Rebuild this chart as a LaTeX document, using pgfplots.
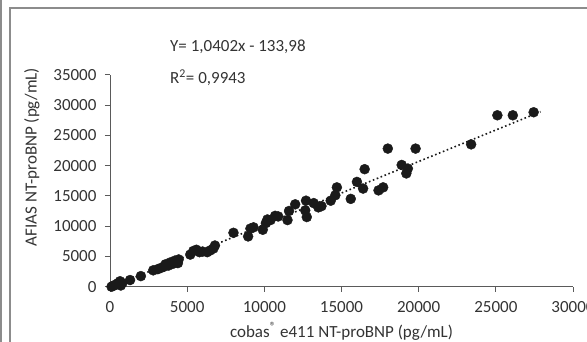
\documentclass[border=0pt]{standalone}
\usepackage{pgfplots}
\pgfplotsset{compat=1.18}
\usepackage{fontspec}
\setmainfont{Carlito}
\definecolor{txt}{HTML}{333333}
\definecolor{axc}{HTML}{5A5A5A}
\definecolor{frm}{HTML}{8C8C8C}
\definecolor{dot}{HTML}{1A1A1A}
\begin{document}
\begin{tikzpicture}[x=1pt,y=1pt,font=\fontsize{17}{20}\selectfont]
\useasboundingbox (0,0) rectangle (587,341);
\clip (0,0) rectangle (587,341);
\draw[frm, line width=1.6pt] (1,-5) -- (1,346);
\draw[frm, line width=2pt] (10,-5) -- (10,332.7) -- (600,332.7);
\begin{axis}[
  scale only axis,
  width=463pt, height=212pt,
  at={(110pt,54.3pt)}, anchor=south west,
  xmin=0, xmax=30000, ymin=0, ymax=35000,
  axis lines*=left,
  axis line style={axc, line width=0.9pt},
  xtick={0,5000,...,30000},
  ytick={0,5000,...,35000},
  scaled ticks=false,
  tick align=outside,
  major tick length=5pt,
  tick style={axc, line width=0.9pt},
  /pgf/number format/1000 sep={},
  /pgf/number format/assume math mode=true,
  ticklabel style={font=\fontsize{17}{20}\selectfont, text=txt},
  yticklabel style={xshift=-5pt},
  xticklabel style={yshift=-6pt},
  clip=false,
  xlabel={cobas\textsuperscript{®} e411 NT-proBNP (pg/mL)},
  xlabel style={at={(axis description cs:0.5,0)}, anchor=base, yshift=-50.3pt, font=\fontsize{17}{20}\selectfont, text=txt},
]
\addplot[only marks, mark=*, mark size=5pt, mark options={fill=dot, draw=dot}] coordinates {
(100,0) (200,150) (350,300) (500,550) (650,900) (700,200) (800,600) (1300,1100) (2000,1750)
(2800,2700) (3100,2900) (3300,3100) (3500,3300) (3600,3700) (3800,3500) (3900,4000) (4100,3800) (4200,4300) (4400,3900) (4450,4500)
(5200,5300) (5400,5900) (5600,6100) (5800,5700) (6000,5800) (6300,5700) (6500,6000) (6700,6300) (6800,6800)
(8000,8900) (8950,8300) (9100,9600) (9300,9800)
(9900,9400) (10100,10500) (10200,11100) (10400,11000) (10700,11700) (10900,11600)
(11500,11000) (11600,12500) (12000,13600) (12650,12600) (12750,11500) (12700,14200) (13200,13800) (13500,13100) (13700,13300)
(14300,14200) (14600,15100) (14700,16400) (15600,14500) (16000,17300) (16400,16200) (16500,19400) (17400,15900) (17700,16400)
(18000,22800) (18900,20100) (19300,19500) (19200,18700) (19800,22800)
(23400,23500) (25100,28300) (26100,28300) (27450,28800)
};
\addplot[dot, line width=1.6pt, dash pattern=on 1.6pt off 2.6pt] coordinates {(150,22.05) (27900,28887.6)};
\end{axis}
\node[anchor=base, rotate=90, text=txt] at (36.5,184) {AFIAS NT-proBNP (pg/mL)};
\node[anchor=base west, text=txt, inner sep=0pt] at (170,289.3) {Y= 1,0402x - 133,98};
\node[anchor=base west, text=txt, inner sep=0pt] at (170,257.7) {R\textsuperscript{2}= 0,9943};
\end{tikzpicture}
\end{document}
